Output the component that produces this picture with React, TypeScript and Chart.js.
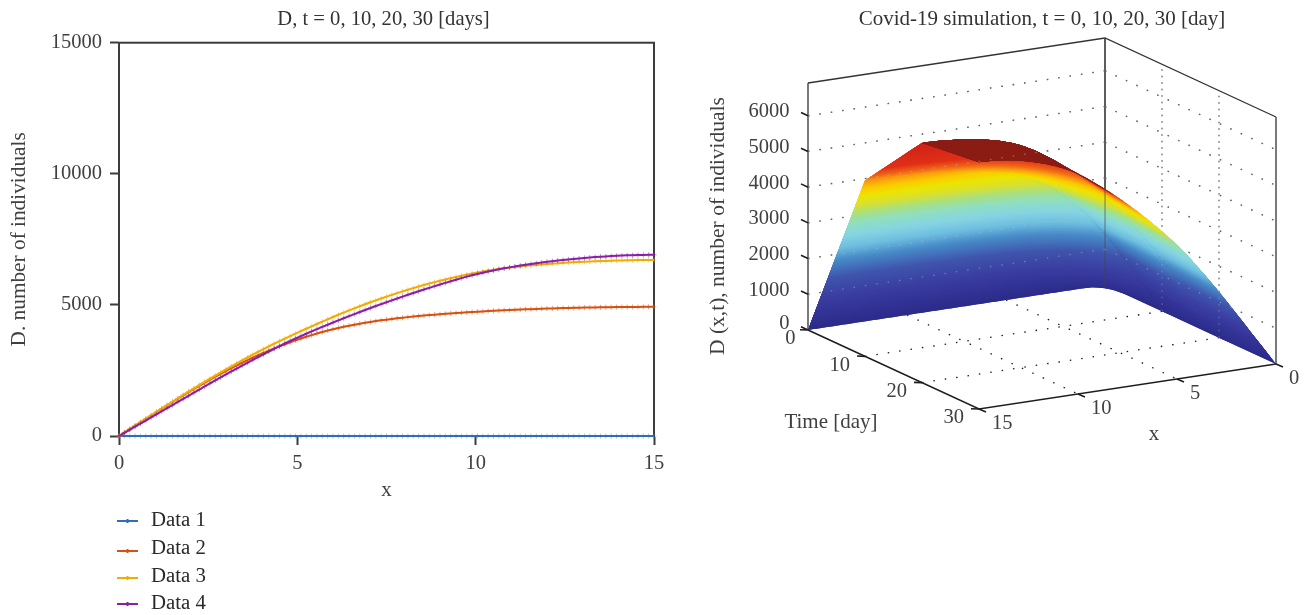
import React, { useEffect, useRef } from "react";
import { Chart, registerables } from "chart.js";

Chart.register(...registerables);

const FONT = "'Liberation Serif', serif";
const INK = "#404040";

const xStep = 0.15;
const xValues = Array.from({ length: 101 }, (_, i) => Math.round(i * xStep * 100) / 100);

const data1 = [0,0,0,0,0,0,0,0,0,0,0,0,0,0,0,0,0,0,0,0,0,0,0,0,0,0,0,0,0,0,0,0,0,0,0,0,0,0,0,0,0,0,0,0,0,0,0,0,0,0,0,0,0,0,0,0,0,0,0,0,0,0,0,0,0,0,0,0,0,0,0,0,0,0,0,0,0,0,0,0,0,0,0,0,0,0,0,0,0,0,0,0,0,0,0,0,0,0,0,0,0];
const data2 = [0,131,262,393,523,653,783,912,1041,1169,1296,1422,1547,1670,1792,1912,2030,2146,2260,2372,2482,2589,2693,2794,2892,2987,3079,3169,3256,3340,3421,3499,3575,3648,3718,3785,3849,3910,3967,4021,4072,4120,4165,4207,4246,4283,4318,4351,4382,4411,4438,4464,4489,4512,4534,4555,4575,4594,4612,4629,4645,4660,4675,4689,4703,4716,4729,4741,4753,4764,4775,4785,4795,4804,4813,4822,4830,4838,4846,4853,4860,4866,4872,4878,4883,4888,4893,4897,4901,4905,4908,4911,4914,4917,4919,4921,4923,4924,4925,4926,4926];
const data3 = [0,132,264,396,528,659,790,921,1051,1181,1310,1438,1565,1691,1816,1940,2063,2185,2305,2424,2542,2658,2772,2884,2994,3103,3210,3315,3418,3519,3618,3715,3810,3903,3997,4090,4182,4273,4363,4451,4538,4623,4707,4789,4869,4948,5025,5100,5174,5246,5316,5384,5451,5516,5579,5640,5700,5758,5814,5868,5921,5972,6021,6068,6114,6158,6200,6241,6276,6309,6340,6369,6396,6422,6446,6468,6489,6508,6526,6543,6559,6574,6588,6601,6613,6625,6636,6646,6655,6664,6672,6679,6686,6692,6697,6702,6706,6709,6712,6714,6715];
const data4 = [0,118,236,354,472,590,708,826,944,1062,1180,1298,1416,1534,1652,1770,1888,2006,2122,2236,2349,2461,2572,2682,2792,2901,3009,3116,3222,3327,3431,3529,3625,3719,3811,3901,3989,4076,4161,4245,4328,4410,4491,4571,4650,4728,4805,4881,4956,5030,5103,5175,5246,5316,5385,5453,5520,5586,5651,5715,5778,5840,5901,5961,6020,6078,6130,6180,6227,6272,6315,6356,6395,6432,6467,6500,6532,6562,6591,6618,6644,6669,6692,6714,6735,6755,6774,6792,6808,6823,6837,6850,6862,6873,6882,6890,6897,6903,6908,6911,6913];

const seriesNames = ["Data 1", "Data 2", "Data 3", "Data 4"];
const seriesColors = ["#2f6fb8", "#d9500f", "#f0ad00", "#8a1fa8"];
const seriesValues = [data1, data2, data3, data4];
const legendLineRows = [521, 551, 578, 604];
const legendTextRows = [521, 549, 577, 604];

const days = [0, 10, 20, 30];
const zTicks = [0, 1000, 2000, 3000, 4000, 5000, 6000];
const tTicks = [0, 10, 20, 30];
const xTicks = [0, 5, 10, 15];

const colorStops: [number, number[]][] = [
  [0, [43, 42, 138]],
  [1000, [58, 60, 160]],
  [1700, [63, 85, 173]],
  [2300, [72, 140, 200]],
  [2700, [110, 190, 224]],
  [3100, [134, 212, 226]],
  [3500, [144, 223, 192]],
  [3800, [168, 224, 128]],
  [4100, [216, 224, 48]],
  [4400, [236, 228, 0]],
  [4650, [252, 200, 0]],
  [4850, [252, 160, 16]],
  [5100, [240, 104, 24]],
  [5500, [224, 48, 24]],
  [6900, [205, 30, 24]],
];

const zMax = 6917;
const proj = (x: number, t: number, z: number) => ({
  x: 1105 - (x * 297) / 15 + (t * 171) / 30,
  y: 285 + (x * 45) / 15 + (t * 79) / 30 - (z * 247) / zMax,
});

function colorAt(z: number) {
  for (let i = 1; i < colorStops.length; i++) {
    const [z1, c1] = colorStops[i];
    const [z0, c0] = colorStops[i - 1];
    if (z <= z1) {
      const f = (z - z0) / (z1 - z0);
      return `rgb(${c0.map((c, k) => Math.round(c + (c1[k] - c) * f)).join(",")})`;
    }
  }
  return "rgb(205,30,24)";
}

function topColorAt(z: number) {
  if (z < 5350) return colorAt(z);
  const f = Math.min(1, (z - 5350) / 600);
  return `rgb(${Math.round(170 - 32 * f)},${Math.round(34 - 6 * f)},${Math.round(24 - 4 * f)})`;
}

function bandDatasets() {
  const out: any[] = [];
  const step = 60;
  const reach = step * 6;
  const poly = (data: any[], color: string) => ({
    data,
    backgroundColor: color,
    borderColor: "transparent",
    borderWidth: 0,
    fill: "shape",
    showLine: true,
    pointRadius: 0,
    tension: 0,
  });
  for (let k = 0; k < 3; k++) {
    const a = seriesValues[k];
    const b = seriesValues[k + 1];
    const base = [
      ...xValues.map((x, i) => proj(x, days[k], a[i])),
      ...xValues.map((x, i) => proj(x, days[k + 1], b[i])).reverse(),
    ];
    out.push(poly(base, "rgb(58,60,160)"));
    for (let L = 0; L < zMax; L += step) {
      const lower: { x: number; y: number }[] = [];
      const upper: { x: number; y: number }[] = [];
      let any = false;
      xValues.forEach((x, i) => {
        const z0 = a[i];
        const z1 = b[i];
        const dz = z1 - z0;
        const clamp = (v: number) => Math.max(0, Math.min(1, v));
        let s0 = 0;
        let s1 = 0;
        if (dz === 0) {
          s1 = z0 >= L && z0 <= L + reach ? 1 : 0;
        } else {
          const sa = clamp((L - z0) / dz);
          const sb = clamp((L + reach - z0) / dz);
          s0 = Math.min(sa, sb);
          s1 = Math.max(sa, sb);
        }
        if (s1 > s0) any = true;
        const at = (s: number) => proj(x, days[k] + (days[k + 1] - days[k]) * s, z0 + dz * s);
        lower.push(at(s0));
        upper.push(at(s1));
      });
      if (!any) continue;
      const mid = L + step / 2;
      out.push(poly([...lower, ...upper.reverse()], k === 2 ? topColorAt(mid) : colorAt(mid)));
    }
  }
  return out;
}

const gap = { x: NaN, y: NaN };
function segs(list: { x: number; y: number }[][]) {
  const out: { x: number; y: number }[] = [];
  list.forEach((s) => out.push(...s, gap));
  return out;
}
const lineSet = (data: any[], color: string, width: number, dash: number[] = []) => ({
  data,
  borderColor: color,
  borderWidth: width,
  borderDash: dash,
  showLine: true,
  pointRadius: 0,
  tension: 0,
  spanGaps: false,
  fill: false,
});

const wallLines = () =>
  segs(
    zTicks.slice(1).flatMap((z) => [
      [proj(15, 0, z), proj(0, 0, z)],
      [proj(0, 0, z), proj(0, 30, z)],
    ])
  );
const wallVerticals = () => segs([10, 20].map((t) => [proj(0, t, 0), proj(0, t, zMax)]));
const floorLines = () =>
  segs([
    ...[10, 20].map((t) => [proj(15, t, 0), proj(0, t, 0)]),
    ...[5, 10].map((x) => [proj(x, 0, 0), proj(x, 30, 0)]),
  ]);

const boxPlugin = {
  id: "box",
  beforeDatasetsDraw(chart: any) {
    const { ctx, chartArea: a } = chart;
    ctx.save();
    ctx.strokeStyle = "#3c3c3c";
    ctx.lineWidth = 2;
    ctx.strokeRect(a.left, a.top, a.right - a.left, a.bottom - a.top);
    ctx.restore();
  },
  afterLayout(chart: any) {
    if (chart.titleBlock) {
      chart.titleBlock.left -= 3;
      chart.titleBlock.right -= 3;
    }
  },
};

const legendPlugin = {
  id: "sideLegend",
  afterDraw(chart: any) {
    const { ctx } = chart;
    ctx.save();
    seriesNames.forEach((name, i) => {
      const y = legendLineRows[i];
      ctx.strokeStyle = seriesColors[i];
      ctx.lineWidth = 2;
      ctx.beginPath();
      ctx.moveTo(117, y);
      ctx.lineTo(138, y);
      ctx.moveTo(127.5, y - 2);
      ctx.lineTo(127.5, y + 2);
      ctx.stroke();
      ctx.fillStyle = "#2a2a2a";
      ctx.font = `20.8px ${FONT}`;
      ctx.textAlign = "left";
      ctx.textBaseline = "middle";
      ctx.fillText(name, 151, legendTextRows[i]);
    });
    ctx.restore();
  },
};

const labels3d = {
  id: "labels3d",
  afterDraw(chart: any) {
    const { ctx, scales } = chart;
    const px = (p: { x: number; y: number }, dx: number, dy: number): [number, number] => [
      scales.x.getPixelForValue(p.x) + dx,
      scales.y.getPixelForValue(p.y) + dy,
    ];
    ctx.save();
    ctx.fillStyle = INK;
    ctx.font = `20.5px ${FONT}`;
    ctx.textBaseline = "middle";
    ctx.textAlign = "right";
    zTicks.forEach((z) => {
      ctx.fillText(String(z), ...px(proj(15, 0, z), -18.5, z === 0 ? -6 : -4));
    });
    tTicks.forEach((t) => ctx.fillText(String(t), ...px(proj(15, t, 0), t === 0 ? -12.5 : -15, 9)));
    ctx.textAlign = "left";
    xTicks.forEach((x) => ctx.fillText(String(x), ...px(proj(x, 30, 0), 13, 15)));
    ctx.font = `21px ${FONT}`;
    ctx.textAlign = "center";
    ctx.fillText("Time [day]", ...px({ x: 831, y: 422 }, 0, 0));
    ctx.fillText("x", ...px({ x: 1154, y: 434 }, 0, 0));
    ctx.fillStyle = "#333";
    ctx.fillText("Covid-19 simulation, t = 0, 10, 20, 30 [day]", ...px({ x: 1042, y: 19 }, 0, 0));
    ctx.fillStyle = INK;
    ctx.font = `21.5px ${FONT}`;
    const [tx, ty] = px({ x: 718, y: 226 }, 0, 0);
    ctx.translate(tx, ty);
    ctx.rotate(-Math.PI / 2);
    ctx.fillText("D (x,t), number of individuals", 0, 0);
    ctx.restore();
  },
};

function makeLeft(canvas: HTMLCanvasElement) {
  const order = [3, 2, 1, 0];
  return new Chart(canvas, {
    type: "scatter",
    data: {
      datasets: seriesValues.map((vals, i) => ({
        label: seriesNames[i],
        data: vals.map((y, k) => ({ x: xValues[k], y })),
        showLine: true,
        borderColor: seriesColors[i],
        borderWidth: 2,
        tension: 0,
        clip: 6,
        pointStyle: "cross",
        pointRadius: 2.5,
        pointBorderWidth: 1,
        pointBorderColor: seriesColors[i] + (i === 0 ? "66" : "88"),
        pointBackgroundColor: "transparent",
        order: order[i],
      })),
    },
    options: {
      animation: false,
      responsive: false,
      events: [],
      layout: { padding: { left: 0, right: 26, top: 0, bottom: 112 } },
      plugins: {
        legend: { display: false },
        tooltip: { enabled: false },
        title: {
          display: true,
          fullSize: false,
          text: "D, t = 0, 10, 20, 30 [days]",
          color: "#333",
          font: { family: FONT, size: 20.6, weight: "normal" },
          padding: { top: 7, bottom: 11 },
        },
      },
      scales: {
        x: {
          type: "linear",
          min: 0,
          max: 15,
          afterFit: (s: any) => {
            s.height = 67;
          },
          title: { display: true, text: "x", color: INK, font: { family: FONT, size: 21 }, padding: { top: 0, bottom: 0 } },
          ticks: { stepSize: 5, color: INK, font: { family: FONT, size: 20.5 }, padding: 6, maxRotation: 0 },
          grid: { drawOnChartArea: false, tickLength: 9, tickWidth: 2, tickColor: "#3c3c3c" },
          border: { color: "#3c3c3c", width: 2 },
        },
        y: {
          type: "linear",
          min: 0,
          max: 15000,
          afterFit: (s: any) => {
            s.width = 119;
          },
          title: {
            display: true,
            text: "D. number of individuals",
            color: INK,
            font: { family: FONT, size: 21.3 },
            padding: { top: 7, bottom: 0 },
          },
          ticks: {
            stepSize: 5000,
            color: INK,
            font: { family: FONT, size: 20.5 },
            padding: 8,
            callback: (v: any) => String(v),
          },
          grid: { drawOnChartArea: false, tickLength: 9, tickWidth: 2, tickColor: "#3c3c3c" },
          border: { color: "#3c3c3c", width: 2 },
        },
      },
    } as any,
    plugins: [boxPlugin, legendPlugin],
  } as any);
}

function makeRight(canvas: HTMLCanvasElement) {
  const corners = {
    tl: proj(15, 0, zMax),
    tb: proj(0, 0, zMax),
    tr: proj(0, 30, zMax),
    a: proj(15, 0, 0),
    b: proj(15, 30, 0),
    c: proj(0, 30, 0),
    d: proj(0, 0, 0),
  };
  const off = (p: { x: number; y: number }, dx: number, dy: number) => ({ x: p.x + dx, y: p.y + dy });
  const tickSegs = segs([
    ...zTicks.map((z) => [proj(15, 0, z), off(proj(15, 0, z), -7, -3.3)]),
    ...tTicks.map((t) => [proj(15, t, 0), off(proj(15, t, 0), -8, -0.3)]),
    ...xTicks.map((x) => [proj(x, 30, 0), off(proj(x, 30, 0), 7, 3)]),
  ]);
  const under = [
    lineSet(wallLines(), "#1c1c1c", 1.3, [1.5, 10]),
    lineSet(wallVerticals(), "#555", 1.3, [1.5, 5]),
    lineSet(floorLines(), "#1c1c1c", 1.3, [1.5, 10]),
    lineSet(segs([[corners.tl, corners.tb, corners.tr], [corners.tl, corners.a], [corners.tr, corners.c]]), "#333", 1.3),
    lineSet(segs([[corners.tb, corners.d]]), "#444", 1.6),
  ];
  const over = [
    lineSet(wallLines(), "rgba(190,190,190,0.45)", 1.3, [1.5, 10]),
    lineSet(wallVerticals(), "rgba(190,190,190,0.35)", 1.3, [1.5, 5]),
    lineSet(segs([[corners.tb, corners.d]]), "rgba(70,70,70,0.55)", 1.2),
    lineSet(segs([[corners.a, corners.b, corners.c]]), "#1e1e1e", 1.6),
    lineSet(tickSegs, "#1e1e1e", 1.6),
  ];
  const all = [...under, ...bandDatasets(), ...over].map((d, i) => ({ ...d, order: -i }));
  return new Chart(canvas, {
    type: "scatter",
    data: { datasets: all },
    options: {
      animation: false,
      responsive: false,
      events: [],
      layout: { padding: 0 },
      plugins: { legend: { display: false }, tooltip: { enabled: false } },
      scales: {
        x: { type: "linear", min: 680, max: 1306, display: false },
        y: { type: "linear", min: 0, max: 615, reverse: true, display: false },
      },
    } as any,
    plugins: [labels3d],
  } as any);
}

export default function App() {
  const left = useRef<HTMLCanvasElement>(null);
  const right = useRef<HTMLCanvasElement>(null);
  useEffect(() => {
    const a = makeLeft(left.current!);
    const b = makeRight(right.current!);
    return () => {
      a.destroy();
      b.destroy();
    };
  }, []);
  return (
    <div style={{ position: "absolute", left: 0, top: 0, width: 1306, height: 615, overflow: "hidden", background: "#fff" }}>
      <canvas ref={left} width={680} height={615} style={{ position: "absolute", left: 0, top: 0, display: "block" }} />
      <canvas ref={right} width={626} height={615} style={{ position: "absolute", left: 680, top: 0, display: "block" }} />
    </div>
  );
}
